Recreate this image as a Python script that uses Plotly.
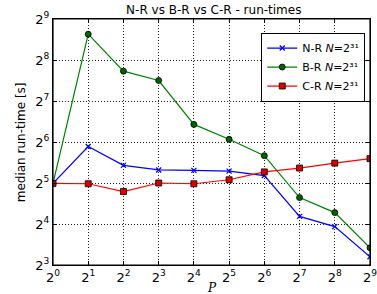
import numpy as np
import plotly.graph_objects as go

P = [1, 2, 4, 8, 16, 32, 64, 128, 256, 512]
nr_times = [31.8, 59.3, 43.1, 39.9, 39.6, 39.1, 36.3, 18.2, 15.3, 9.2]
br_times = [31.8, 396.0, 212.0, 181.0, 86.2, 67.0, 50.8, 25.0, 19.4, 10.7]
cr_times = [31.8, 31.6, 27.7, 32.0, 31.6, 33.8, 38.6, 41.2, 44.8, 48.3]

x_tickvals = [2 ** k for k in range(0, 10)]
x_ticktext = [f"2<sup>{k}</sup>" for k in range(0, 10)]
y_tickvals = [2 ** k for k in range(3, 10)]
y_ticktext = [f"2<sup>{k}</sup>" for k in range(3, 10)]

FONT = "DejaVu Sans"
fig = go.Figure()

fig.add_trace(go.Scatter(
    x=P, y=nr_times, mode="lines+markers",
    name="N-R <i>N</i>=2³¹",
    line=dict(color="#0000ff", width=1.2),
    marker=dict(symbol="x-thin", size=5, color="#0000ff",
                line=dict(color="#0000ff", width=1.3)),
))
fig.add_trace(go.Scatter(
    x=P, y=br_times, mode="lines+markers",
    name="B-R <i>N</i>=2³¹",
    line=dict(color="#008000", width=1.2),
    marker=dict(symbol="circle", size=6, color="#006400",
                line=dict(color="black", width=0.8)),
))
fig.add_trace(go.Scatter(
    x=P, y=cr_times, mode="lines+markers",
    name="C-R <i>N</i>=2³¹",
    line=dict(color="#ff0000", width=1.2),
    marker=dict(symbol="square", size=6, color="#dd0000",
                line=dict(color="black", width=0.8)),
))

l2 = np.log10(2)
axis_common = dict(
    type="log", automargin=False, ticklabeloverflow="allow",
    showline=True, linecolor="black", linewidth=1.2, mirror="ticks",
    ticks="inside", ticklen=4, tickcolor="black",
    showgrid=True, gridcolor="#222222", griddash="1px,2px", gridwidth=0.7,
    zeroline=False,
    tickfont=dict(family=FONT, size=13, color="black"),
)

fig.update_layout(
    width=377, height=294,
    margin=dict(l=53, r=7, t=19, b=29),
    paper_bgcolor="white", plot_bgcolor="white",
    font=dict(family=FONT, color="black"),
    title=dict(text="N-R vs B-R vs C-R - run-times", x=0.567, xanchor="center",
               y=0.965, yanchor="middle",
               font=dict(family=FONT, size=12, color="black")),
    xaxis=dict(**axis_common, range=[0, 9 * l2],
               tickvals=x_tickvals, ticktext=x_ticktext),
    yaxis=dict(**axis_common, range=[3 * l2, 9 * l2],
               tickvals=y_tickvals, ticktext=y_ticktext),
    legend=dict(x=0.985, y=0.945, xanchor="right", yanchor="top",
                bgcolor="white", bordercolor="black", borderwidth=1,
                font=dict(family=FONT, size=11), tracegroupgap=0,
                itemwidth=30),
    showlegend=True,
    shapes=[dict(type="rect", xref="paper", yref="paper", x0=0, x1=1,
                 y0=0, y1=1, line=dict(color="black", width=1.2),
                 layer="above")],
    annotations=[
        dict(text="<i>P</i>", xref="paper", yref="paper", x=0.5, y=-0.093,
             xanchor="center", yanchor="middle", showarrow=False,
             font=dict(family="DejaVu Serif", size=12)),
        dict(text="median run-time [s]", xref="paper", yref="paper",
             x=-0.10, y=0.5, textangle=-90, xanchor="center",
             yanchor="middle", showarrow=False,
             font=dict(family=FONT, size=12)),
    ],
)

fig.write_html("out.html", config={"displayModeBar": False},
               post_script="document.body.style.margin='0px';document.body.style.overflow='hidden';")
